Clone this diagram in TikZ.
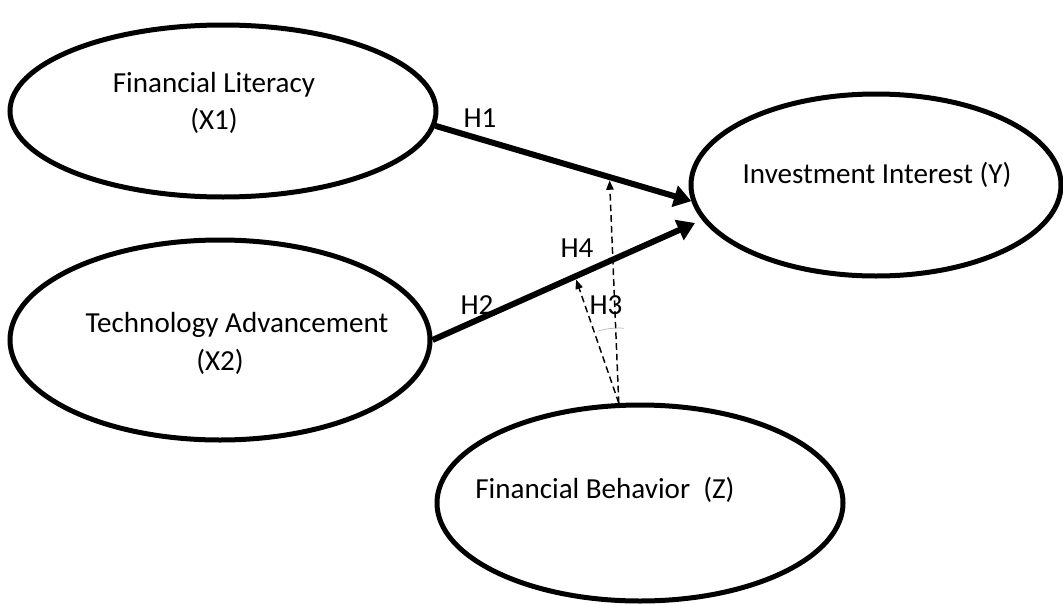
\documentclass[tikz,border=0pt]{standalone}
\usepackage{fontspec}
\setmainfont{Carlito}
\usetikzlibrary{shapes.geometric,arrows.meta,calc}

\tikzset{
  construct/.style={draw, ellipse, line width=3.75pt, inner sep=0pt},
  hyp/.style={line width=4.5pt, -{Triangle[length=13pt,width=16pt]}},
  moder/.style={line width=1.1pt, dash pattern=on 5pt off 3pt, shorten >=2.5pt, -{Triangle[length=7pt,width=5.5pt]}},
  every node/.append style={font=\fontsize{21.8pt}{27.75pt}\selectfont},
}

\begin{document}
\begin{tikzpicture}[x=0.75pt,y=-0.75pt]
\useasboundingbox (0,0) rectangle (1063,603);

\node[construct, minimum width=319.5pt, minimum height=129pt] (fl) at (223,111) {};
\node[construct, minimum width=315pt, minimum height=150pt] (ta) at (220,340) {};
\node[construct, minimum width=277.5pt, minimum height=136.5pt] (ii) at (876,185) {};
\node[construct, minimum width=304.5pt, minimum height=147pt] (fb) at (640,503) {};

\node[align=center] (flt) at (214,103) {Financial Literacy\\(X1)};
\node (tat) at (237,325) {Technology Advancement};
\node (tax) at (220,362) {(X2)};
\node (iit) at (877,175) {Investment Interest (Y)};
\node (fbt) at (605,490) {Financial Behavior~~(Z)};

\coordinate (y2) at (695,223);
\draw[hyp] (fl.-4) -- coordinate[pos=0.68] (m1) (ii.185);
\draw[hyp] (ta.east) -- coordinate[pos=0.543] (m2) (y2);

\draw[moder] (fb.102) -- (m1);
\draw[moder] (fb.102) -- (m2);
\draw[gray!60, line width=0.5pt] ($(fb.102)+(-86:75)$) arc[start angle=-86, end angle=-106, radius=75];

\node (h1) at (480,118) {H1};
\node (h4) at (577,248) {H4};
\node (h2) at (477,305) {H2};
\node (h3) at (606,305) {H3};
\end{tikzpicture}
\end{document}
